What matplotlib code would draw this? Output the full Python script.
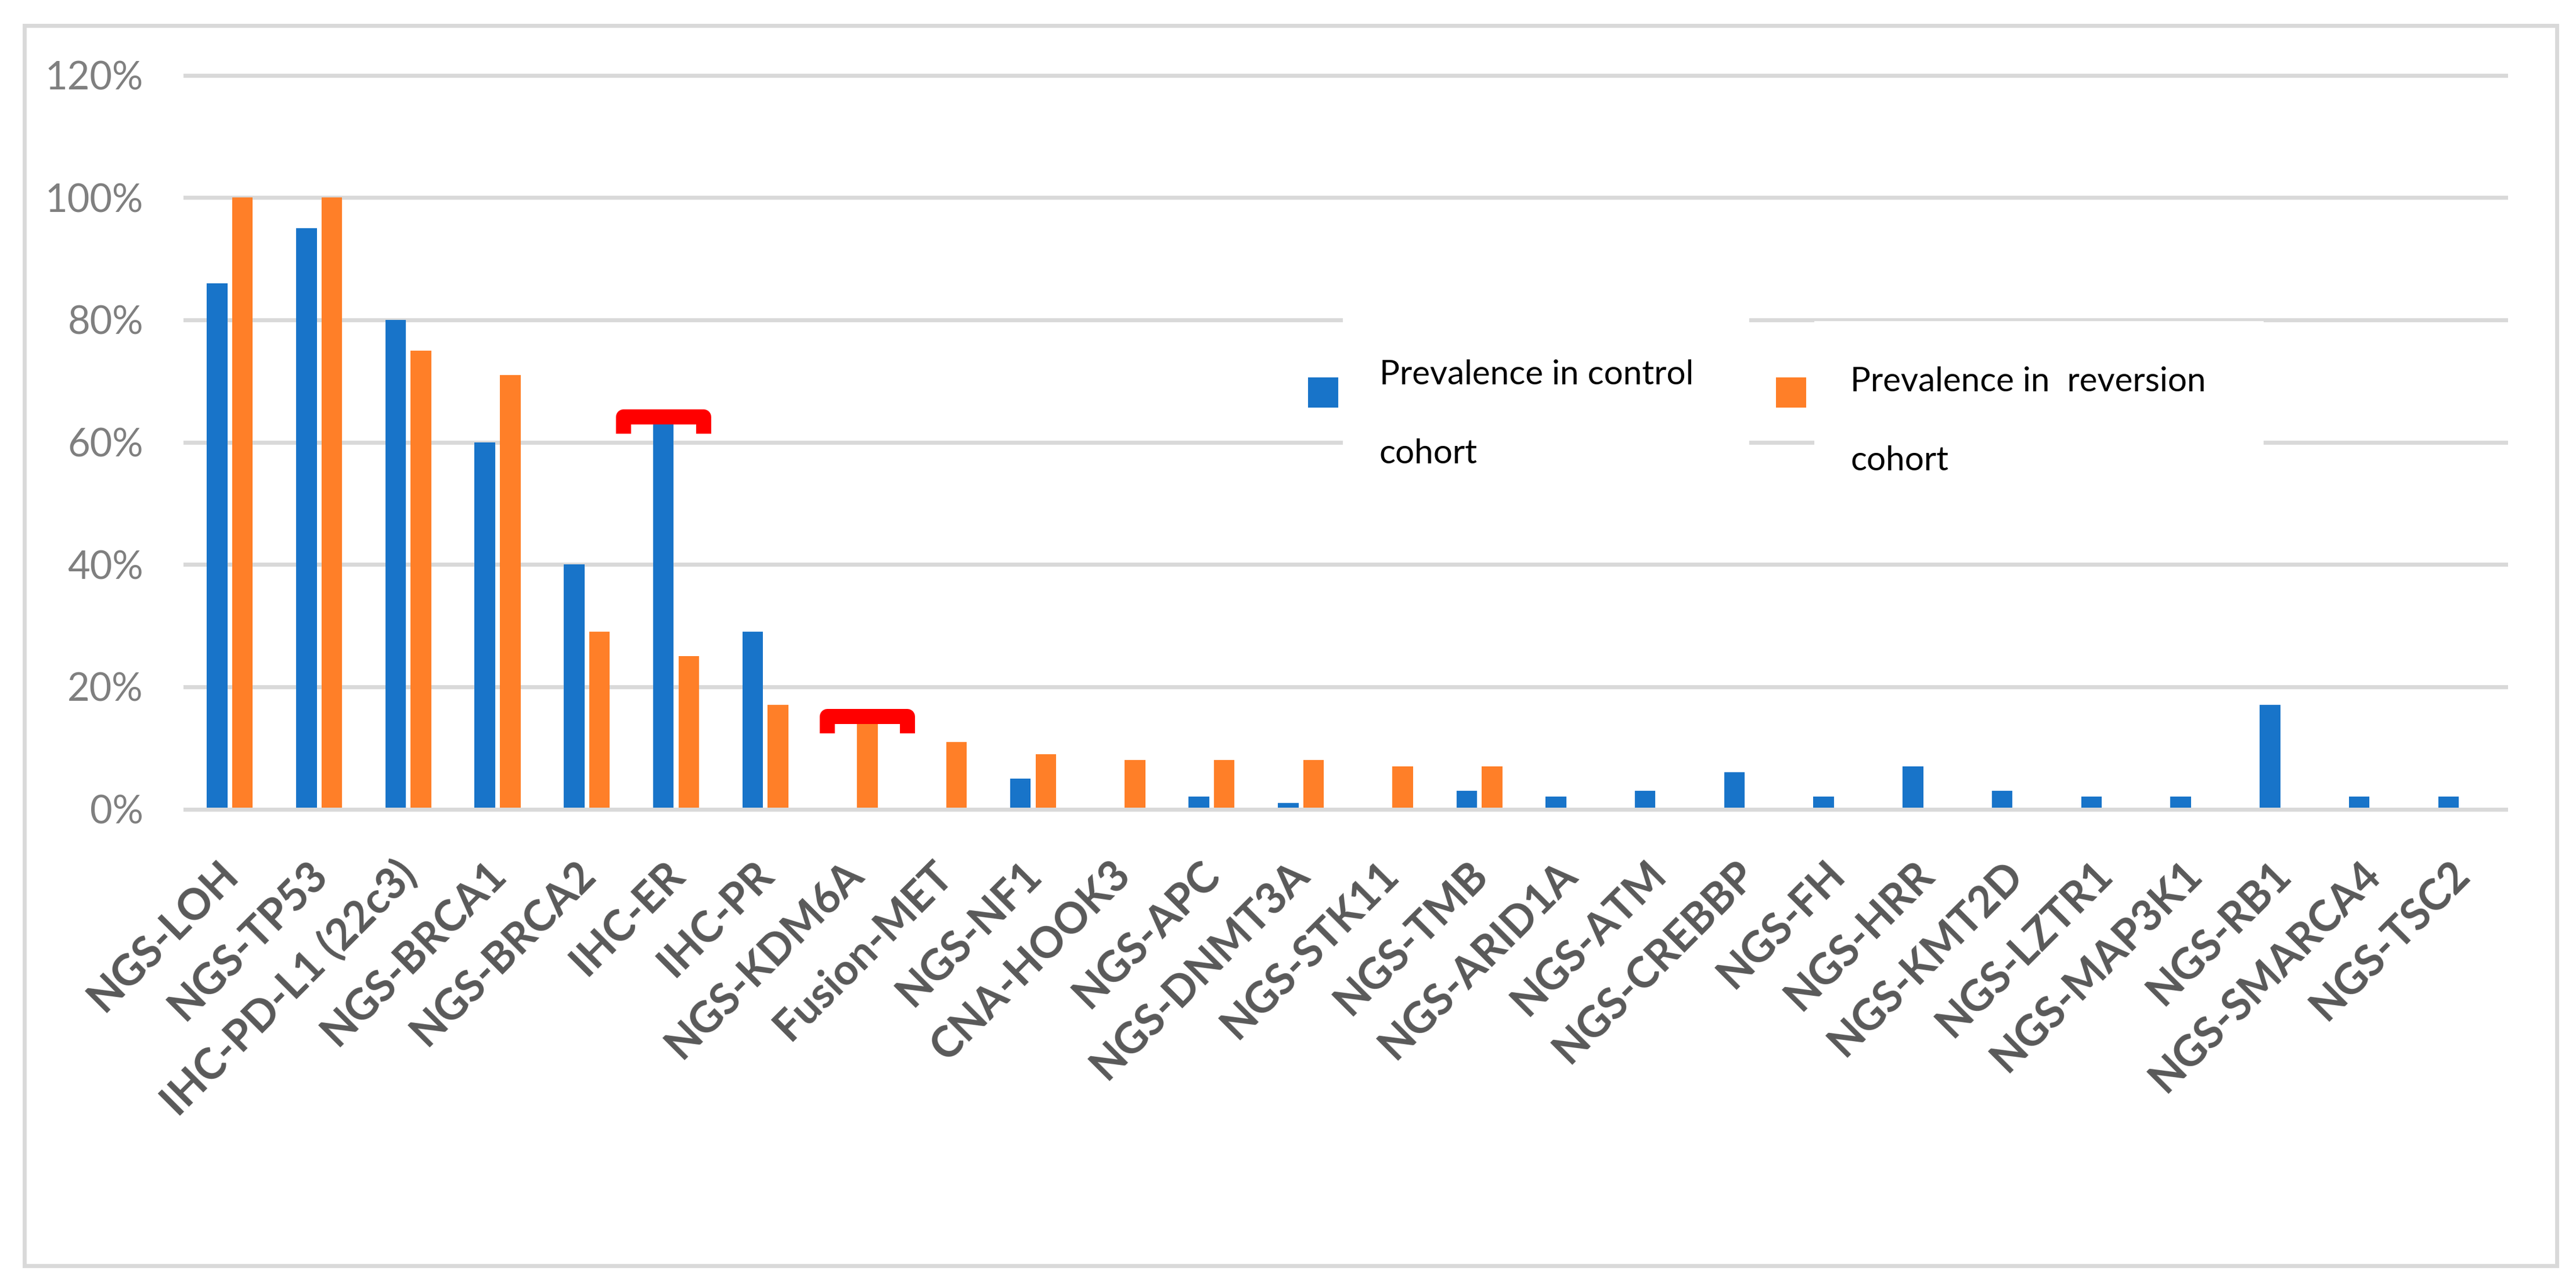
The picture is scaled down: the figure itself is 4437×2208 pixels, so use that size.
import numpy as np
import matplotlib
matplotlib.use("Agg")
import matplotlib.pyplot as plt
from matplotlib.patches import Rectangle

plt.rcParams['font.family'] = ['Lato', 'DejaVu Sans']

# ---------------------------------------------------------------------------
# Data (percent)
# ---------------------------------------------------------------------------
categories = [
    "NGS-LOH", "NGS-TP53", "IHC-PD-L1 (22c3)", "NGS-BRCA1", "NGS-BRCA2",
    "IHC-ER", "IHC-PR", "NGS-KDM6A", "Fusion-MET", "NGS-NF1", "CNA-HOOK3",
    "NGS-APC", "NGS-DNMT3A", "NGS-STK11", "NGS-TMB", "NGS-ARID1A", "NGS-ATM",
    "NGS-CREBBP", "NGS-FH", "NGS-HRR", "NGS-KMT2D", "NGS-LZTR1",
    "NGS-MAP3K1", "NGS-RB1", "NGS-SMARCA4", "NGS-TSC2",
]
control = [86, 95, 80, 60, 40, 63, 29, 0, 0, 5, 0, 2, 1, 0, 3, 2, 3,
           6, 2, 7, 3, 2, 2, 17, 2, 2]
reversion = [100, 100, 75, 71, 29, 25, 17, 14, 11, 9, 8, 8, 8, 7, 7, 0, 0,
             0, 0, 0, 0, 0, 0, 0, 0, 0]
series_names = ["Prevalence in control\ncohort", "Prevalence in  reversion\ncohort"]
y_ticks = [0, 20, 40, 60, 80, 100, 120]

# highlighted bars: (category, series) -> red bracket
highlights = [("IHC-ER", 0), ("NGS-KDM6A", 1)]

BLUE = "#1874C9"
ORANGE = "#FF7F28"
GRID = "#D9D9D9"

W, H = 4437, 2208
fig = plt.figure(figsize=(W / 100, H / 100), dpi=100)


def fx(px):
    return px / W


def fy(py):
    return 1 - py / H


ax = fig.add_axes([fx(319), fy(1393.5), fx(4316) - fx(319), fy(129.7) - fy(1393.5)])

x = np.arange(len(categories))
off = 0.142
bw = 0.231
ax.bar(x - off, control, bw, color=BLUE, zorder=2)
ax.bar(x + off, reversion, bw, color=ORANGE, zorder=2)

ax.set_xlim(-0.5, len(categories) - 0.5)
ax.set_ylim(0, 120)

# gridlines (drawn by hand so the edge lines are not clipped)
for t in y_ticks:
    ax.axhline(t, color=GRID, lw=5, clip_on=False, zorder=3 if t == 0 else 1)

for s in ax.spines.values():
    s.set_visible(False)
ax.set_yticks(y_ticks)
ax.set_yticklabels([f"{t}%" for t in y_ticks])
ax.tick_params(axis='y', length=0, pad=52, labelsize=48, labelcolor="#7F7F7F")
ax.set_xticks([])

# rotated category labels
for i, lab in enumerate(categories):
    ax.annotate(lab, xy=(i, 0), xycoords='data',
                xytext=(18, -117), textcoords='offset pixels',
                rotation=45, rotation_mode='anchor', ha='right', va='baseline',
                fontsize=53, fontweight='bold', color="#595959",
                annotation_clip=False)

# red brackets over highlighted bars
for cat, s in highlights:
    i = categories.index(cat)
    val = (control, reversion)[s][i]
    cx = i + (off if s else -off)
    hw = 0.449
    ax.plot([cx - hw, cx - hw, cx + hw, cx + hw],
            [val - 1.6, val + 1.1, val + 1.1, val - 1.6],
            color="#FF0000", lw=18.7, solid_joinstyle='round',
            solid_capstyle='butt', zorder=5, clip_on=False)

# legend: white boxes over the gridlines, squares and two-line labels
fig.patches.append(Rectangle((fx(2313), fy(860)), fx(3013) - fx(2313), fy(540) - fy(860),
                             transform=fig.transFigure, facecolor='white', edgecolor='none'))
fig.patches.append(Rectangle((fx(3125), fy(860)), fx(3899) - fx(3125), fy(553) - fy(860),
                             transform=fig.transFigure, facecolor='white', edgecolor='none'))
legend_items = [(BLUE, 2253, 2376, 662), (ORANGE, 3059, 3187, 674)]
for (col, sx, tx, base), name in zip(legend_items, series_names):
    fig.patches.append(Rectangle((fx(sx), fy(702)), fx(52), fy(650) - fy(702),
                                 transform=fig.transFigure, facecolor=col,
                                 edgecolor='none', zorder=3))
    line1, line2 = name.split("\n")
    fig.text(fx(tx), fy(base), line1, fontsize=42, color="black",
             ha='left', va='baseline', zorder=4)
    fig.text(fx(tx), fy(base + 136), line2, fontsize=42, color="black",
             ha='left', va='baseline', zorder=4)

# outer chart-area border
fig.patches.append(Rectangle((fx(42), fy(2179.5)), fx(4403.5) - fx(42), fy(44) - fy(2179.5),
                             transform=fig.transFigure, facecolor='none',
                             edgecolor=GRID, lw=5, zorder=0))

fig.savefig("out.png", dpi=100, facecolor='white')
